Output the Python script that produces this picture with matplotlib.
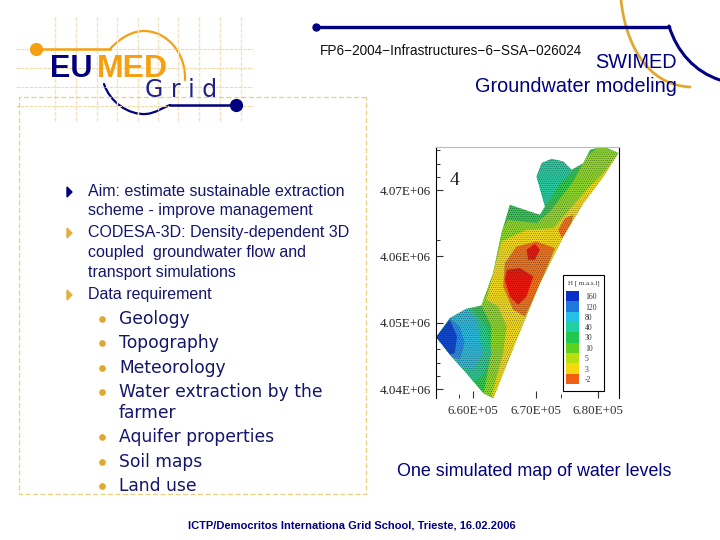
import matplotlib
matplotlib.use('Agg')
import matplotlib.pyplot as plt
from matplotlib.patches import Polygon, Rectangle, PathPatch
from matplotlib.path import Path
import numpy as np

# slide text
aim_lines = ['Aim: estimate sustainable extraction', 'scheme - improve management',
             'CODESA-3D: Density-dependent 3D', 'coupled  groundwater flow and',
             'transport simulations', 'Data requirement']
aim_y = [192, 211, 233, 253, 272, 295]
aim_marks = [192, 233, 295]
aim_cols = ['#000080', '#e0b040', '#e0b040']
sub_lines = ['Geology', 'Topography', 'Meteorology', 'Water extraction by the', 'farmer',
             'Aquifer properties', 'Soil maps', 'Land use']
sub_y = [319, 343, 368, 392, 413, 437, 462, 486]
sub_marks = [319, 343, 368, 392, 437, 462, 486]

# map data, easting and northing in km
outline_e = [654.06, 656.26, 658.93, 661.34, 663.21, 664.55, 665.88, 670.70, 671.50, 670.16, 670.96, 672.57, 674.44,
             675.78, 677.65, 678.72, 680.86, 683.26, 680.86, 677.65, 674.44, 670.70, 666.95, 663.21, 661.60, 658.93, 656.52]
outline_n = [4047.84, 4050.70, 4052.11, 4052.61, 4057.49, 4063.52, 4067.79, 4066.28, 4067.54, 4072.06, 4074.07, 4074.72, 4074.32,
             4073.07, 4074.07, 4076.08, 4076.58, 4075.58, 4072.06, 4068.04, 4063.02, 4055.98, 4047.44, 4038.64, 4039.40, 4042.41, 4044.92]

# colour regions, drawn in order: colour, easting, northing
regions = [
    ('#35c455', [650, 690, 690, 650], [4035, 4035, 4080, 4080]),
    ('#2cc8a0', [669.89, 670.96, 672.57, 674.44, 676.04, 673.9, 672.3, 670.7, 670.16],
     [4071.56, 4074.07, 4074.72, 4074.32, 4072.81, 4071.06, 4068.54, 4067.03, 4069.55]),
    ('#8ed52f', [661.34, 661.87, 663.48, 665.61, 670.16, 672.3, 676.04, 678.18, 680.86, 684.06, 675.51, 666.95, 663.74, 661.6, 662.67, 662.94],
     [4052.61, 4056.48, 4062.51, 4065.53, 4065.03, 4066.78, 4071.31, 4075.08, 4077.09, 4076.08, 4062.0, 4046.93, 4037.9, 4038.9, 4044.42, 4049.45]),
    ('#f0d820', [662.14, 663.21, 664.55, 668.56, 672.83, 674.97, 678.18, 680.86, 683.26, 684.06, 675.51, 671.23, 666.95, 663.48, 662.94, 664.81, 665.35, 664.01],
     [4053.47, 4057.49, 4062.26, 4064.02, 4064.27, 4066.53, 4070.05, 4072.56, 4075.58, 4074.57, 4062.51, 4055.98, 4046.93, 4038.39, 4038.9, 4045.43, 4049.45, 4052.46]),
    ('#ee7420', [665.08, 666.95, 670.16, 673.1, 671.76, 669.63, 668.29, 666.42, 664.81],
     [4059.0, 4061.5, 4062.26, 4061.26, 4058.24, 4053.47, 4050.95, 4051.96, 4055.48]),
    ('#ee7420', [673.64, 674.7, 676.04, 675.5, 674.17], [4064.02, 4065.78, 4066.28, 4064.0, 4062.76]),
    ('#e81a10', [665.45, 667.49, 669.63, 668.56, 667.22, 665.88, 665.08],
     [4057.99, 4058.24, 4056.98, 4053.97, 4052.71, 4053.97, 4056.48]),
    ('#e81a10', [668.56, 669.89, 670.7, 669.89, 668.82], [4061.0, 4061.9, 4061.0, 4059.5, 4059.5]),
    ('#2cc890', [659.47, 662.14, 662.94, 661.87, 660, 657.86, 654], [4052.46, 4049.45, 4045.43, 4042.41, 4040.9, 4042.41, 4045]),
    ('#30b8d8', [656.26, 658.93, 660.53, 661.6, 660, 657.86, 656.52], [4050.95, 4052.21, 4050.45, 4045.43, 4042.91, 4043.42, 4044.92]),
    ('#2a8ce0', [654.06, 656.26, 657.86, 658.66, 657.86, 656.52], [4047.84, 4050.7, 4049.45, 4046.93, 4044.42, 4044.92]),
    ('#1448c8', [654.06, 656.26, 657.43, 657.06, 656.26], [4047.84, 4050.45, 4047.94, 4045.43, 4045.2]),
]

legend_cols = ['#0b2fc4', '#1f78e0', '#25c0e8', '#20d0a0', '#20c850', '#60d020', '#b8e010', '#f5d810', '#f06010']
legend_labels = ['160', '120', '80', '40', '30', '10', '5', '3', '-2']
x_ticks = [660, 670, 680]
x_minor = [657.75, 674]
x_labels = ['6.60E+05', '6.70E+05', '6.80E+05']
y_ticks = [4040, 4050, 4060, 4070]
y_minor = [4042, 4044, 4046, 4062.5, 4072, 4074, 4076]
y_labels = ['4.04E+06', '4.05E+06', '4.06E+06', '4.07E+06']

navy = '#000080'
text_navy = '#15156b'
gold = '#e0a830'
orange = '#f5a011'


def curve(ax, pts, col, lw):
    # one cubic bezier from 4 control points
    codes = [Path.MOVETO, Path.CURVE4, Path.CURVE4, Path.CURVE4]
    ax.add_patch(PathPatch(Path(pts, codes), fc='none', ec=col, lw=lw, capstyle='round'))


fig = plt.figure(figsize=(7.2, 5.4), dpi=100)
ax = fig.add_axes([0, 0, 1, 1])
ax.set_xlim(0, 720)
ax.set_ylim(540, 0)
ax.axis('off')

# logo grid
for gx in [55, 76, 97, 117, 138, 158, 178, 199, 220, 241]:
    ax.plot([gx, gx], [17, 122], color='#f3e4c0', lw=1, ls=(0, (3, 1)))
for gy in [49, 68, 87, 106]:
    ax.plot([16, 253], [gy, gy], color='#f0dca8', lw=0.8, ls=(0, (3, 1)))

# dashed frame
ax.plot([366, 18.5, 18.5, 366, 366], [96.5, 96.5, 494, 494, 96.5], color='#e8d080', lw=0.9, ls=(0, (4, 2)))

# logo curves
ax.plot([36, 110], [49, 49], color=orange, lw=1.8)
ax.plot(36, 49, 'o', color=orange, ms=8.5)
curve(ax, [(110, 49), (120, 38), (132, 31), (144, 31)], orange, 1.6)
curve(ax, [(144, 31), (166, 31), (186, 52), (185, 80)], orange, 1.6)
curve(ax, [(104, 84), (110, 102), (128, 115), (146, 114)], navy, 1.6)
curve(ax, [(146, 114), (156, 113), (162, 108), (170, 105)], navy, 1.6)
ax.plot([170, 236], [105, 105], color=navy, lw=1.8)
ax.plot(236, 105, 'o', color=navy, ms=8.5)
ax.text(50, 69, 'EU', color=navy, fontsize=22, fontweight='bold', family='Liberation Sans', va='center')
ax.text(97, 69, 'MED', color=orange, fontsize=23, fontweight='bold', family='Liberation Sans', va='center')
ax.text(145, 90, 'G r i d', color='#202088', fontsize=17, family='DejaVu Sans', va='center')

# header curves
ax.plot(316, 26.5, 'o', color=navy, ms=5)
ax.plot([316, 669], [26.5, 26.5], color=navy, lw=2.4)
curve(ax, [(669, 26), (677, 52), (695, 72), (720, 80)], navy, 2.2)
curve(ax, [(621, 0), (625, 40), (645, 85), (690, 87)], gold, 2)

# header text
ax.text(320, 51, 'FP6\u22122004\u2212Infrastructures\u22126\u2212SSA\u2212026024', fontsize=9.8, family='Liberation Sans',
        color='#101010', va='center')
ax.text(677, 63, 'SWIMED', fontsize=14.3, family='Liberation Sans', color=navy, va='center', ha='right')
ax.text(677, 87, 'Groundwater modeling', fontsize=14.3, family='Liberation Sans', color=navy, va='center', ha='right')

# bullets
for line, yy in zip(aim_lines, aim_y):
    ax.text(88, yy, line, fontsize=11.5, family='Liberation Sans', color=text_navy, va='center')
for yy, cc in zip(aim_marks, aim_cols):
    ax.add_patch(Polygon([[67, yy - 5], [72, yy], [67, yy + 5]], closed=True, color=cc))
for line, yy in zip(sub_lines, sub_y):
    ax.text(119, yy, line, fontsize=12.3, family='DejaVu Sans', color=text_navy, va='center')
ax.plot([102] * len(sub_marks), sub_marks, 'o', color=gold, ms=3.8, ls='none')

ax.text(534, 471, 'One simulated map of water levels', fontsize=12.85, family='Liberation Sans', color=navy, va='center', ha='center')
ax.text(351.5, 525, 'ICTP/Democritos Internationa Grid School, Trieste, 16.02.2006', fontsize=8.05, family='Liberation Sans',
        fontweight='bold', color=navy, va='center', ha='center')

# map, axes placed so the ticks fall where they do on the slide
plt.rcParams['hatch.linewidth'] = 0.35
m = fig.add_axes([436 / 720, 1 - 398 / 540, 183 / 720, 251 / 540])
m.set_xlim(654.06, 683.36)
m.set_ylim(4038.66, 4076.5)
m.spines['top'].set_color('#bbbbbb')
m.spines['bottom'].set_visible(False)
m.patch.set_alpha(0)
outline = Polygon(np.column_stack([outline_e, outline_n]), closed=True, fc='none', ec='none')
m.add_patch(outline)
for col, re, rn in regions:
    p = Polygon(np.column_stack([re, rn]), closed=True, fc=col, ec='none')
    m.add_patch(p)
    p.set_clip_path(outline)
mesh = Polygon(np.column_stack([outline_e, outline_n]), closed=True, fc='none', ec='#111111', lw=0, hatch='........', alpha=0.6)
m.add_patch(mesh)
m.set_xticks(x_ticks)
m.set_xticks(x_minor, minor=True)
m.set_xticklabels(x_labels, family='Liberation Serif', fontsize=9.4, color='#333333')
m.set_yticks(y_ticks)
m.set_yticks(y_minor, minor=True)
m.set_yticklabels(y_labels, family='Liberation Serif', fontsize=9.4, color='#222222')
m.tick_params(axis='both', which='major', direction='in', length=5, width=0.8, color='#333333')
m.tick_params(axis='x', which='major', pad=5)
m.tick_params(axis='y', which='major', pad=4)
m.tick_params(axis='both', which='minor', direction='in', length=3, width=0.7, color='#333333')
m.text(657.1, 4071.5, '4', fontsize=14, family='Liberation Serif', color='#222222', ha='center', va='center')

# legend box, drawn on the slide axes on top of the map
ax.set_zorder(m.get_zorder() + 1)
ax.add_patch(Rectangle((563, 275), 41, 116, fc='white', ec='black', lw=0.8))
ax.text(583.5, 283, 'H [ m.a.s.l]', fontsize=5, family='Liberation Serif', ha='center', va='center', color='#333333')
box_y = np.linspace(291, 384, len(legend_cols) + 1)
for i, cc in enumerate(legend_cols):
    ax.add_patch(Rectangle((566, box_y[i]), 13, box_y[i + 1] - box_y[i], fc=cc, ec='none'))
    ax.text(585, (box_y[i] + box_y[i + 1]) / 2 + 1, legend_labels[i], fontsize=5.5, family='Liberation Serif', va='center', color='#333333')

fig.savefig('out.png', dpi=100, facecolor='white')
